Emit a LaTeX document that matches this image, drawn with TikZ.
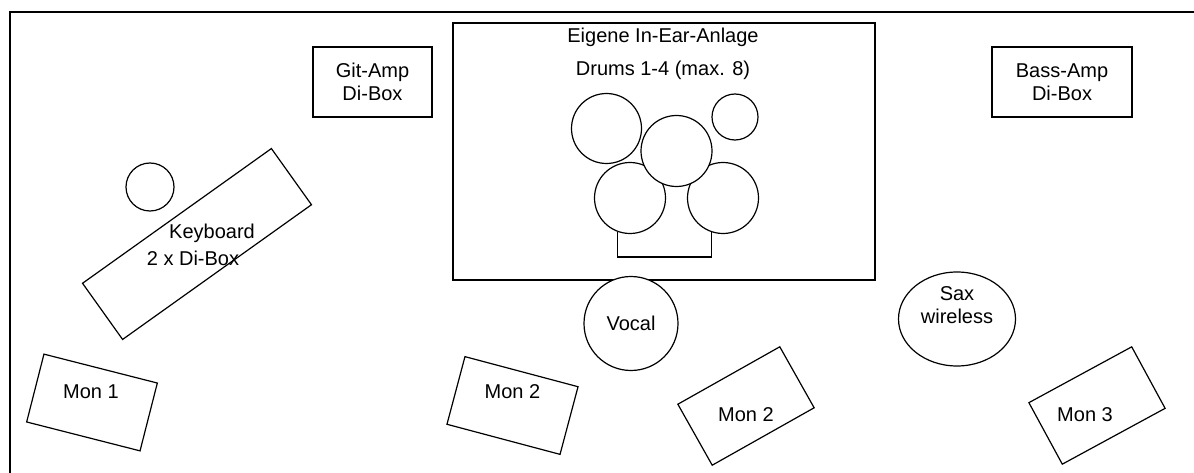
\documentclass[tikz,border=0pt]{standalone}
\usepackage{fontspec}
\setmainfont{Liberation Sans}
\usetikzlibrary{shapes.geometric}

\begin{document}
\begin{tikzpicture}[x=1pt,y=-1pt,line width=1.2pt,
  every node/.style={font=\fontsize{20}{23}\selectfont,align=center},
  box/.style={draw,rectangle,inner sep=0pt},
  monbox/.style={box,minimum width=117pt,minimum height=70pt},
  drum/.style={draw,circle,fill=white,inner sep=0pt}]
\useasboundingbox (0,0) rectangle (1194,473);
\clip (0,0) rectangle (1194,473);
\draw[line width=1.6pt] (10,12) rectangle (1200,480);
% amps
\node[box,minimum width=119pt,minimum height=70pt] (gitamp) at (372.5,82) {Git-Amp\\Di-Box};
\node[box,minimum width=140pt,minimum height=70pt] (bassamp) at (1062,82) {Bass-Amp\\Di-Box};
% drum riser
\node[box,minimum width=422pt,minimum height=257pt] (riser) at (664,151.5) {};
\node (inear) at (663,37) {Eigene In-Ear-Anlage};
\node (drums) at (663,70) {Drums 1-4 (max. 8)};
\node[drum,minimum size=70pt] (tomA) at (606.5,128.5) {};
\node[drum,minimum size=46pt] (cymbal) at (735,117) {};
\node[drum,minimum size=71pt] (snare) at (630,198) {};
\node[drum,minimum size=71pt] (floortom) at (723,198) {};
\node[drum,minimum size=71pt] (tomB) at (676.5,151) {};
\coordinate (throne) at (665,257);
\draw (snare.250) |- (throne) -| (floortom.252);
% keyboard
\node[drum,minimum size=48pt] (kbstool) at (150,187) {};
\node[box,minimum width=232pt,minimum height=69pt,rotate=35.5] (keys) at (197,244) {};
\node (keyslabel) at (212,233) {Keyboard};
\node (dilabel) at (193,258) {2 x Di-Box};
% front
\node[drum,minimum size=94pt] (vocal) at (631,323.5) {Vocal};
\node[draw,ellipse,inner sep=0pt,minimum width=117pt,minimum height=94pt] (sax) at (957,319) {};
\node (saxlabel) at (957,305) {Sax\\wireless};
% monitors
\node[monbox,rotate=-14.3] (mon1) at (92,402.5) {};
\node (mon1label) at (91,392) {Mon 1};
\node[monbox,rotate=-14.9] (mon2a) at (512.5,405.5) {};
\node (mon2alabel) at (512.5,392) {Mon 2};
\node[monbox,rotate=29.4] (mon2b) at (746,406) {};
\node (mon2blabel) at (746,415) {Mon 2};
\node[monbox,rotate=28.5] (mon3) at (1097,405.5) {};
\node (mon3label) at (1085,415) {Mon 3};
\end{tikzpicture}
\end{document}
